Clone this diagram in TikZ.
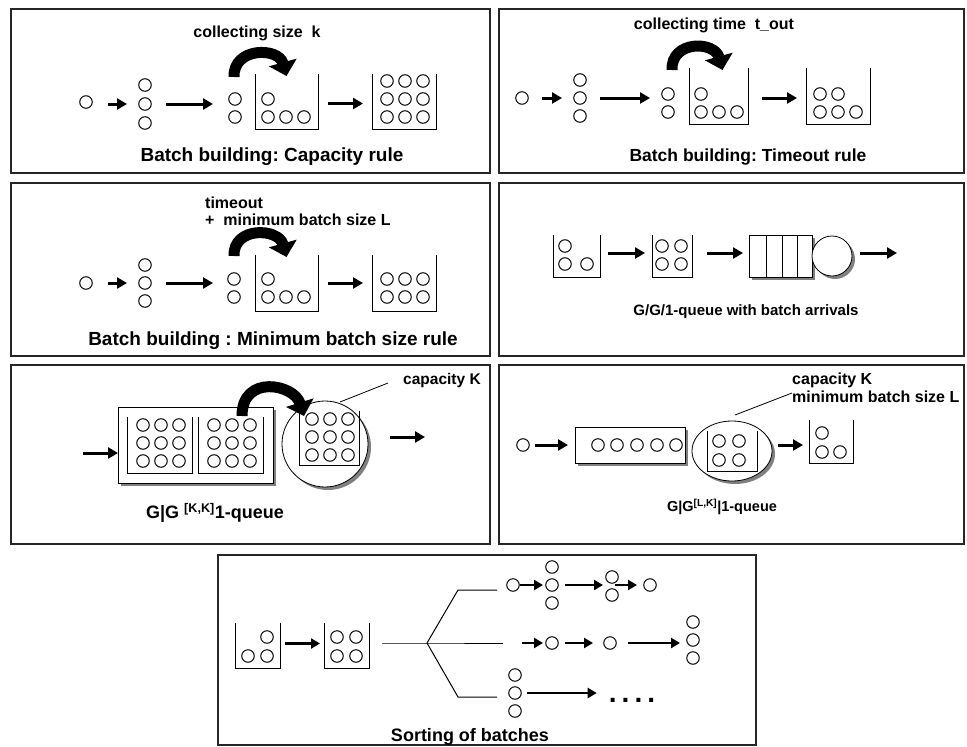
\documentclass[tikz,border=0pt]{standalone}
\usepackage{fontspec}
\setmainfont{Liberation Sans}
\usetikzlibrary{arrows.meta,shadows,calc,shapes.geometric}
\tikzset{
 ball/.style={circle,draw,line width=1pt,minimum size=12.5pt,inner sep=0pt,outer sep=0pt},
 bucket/.style={rectangle,inner sep=0pt,outer sep=0pt},
 bline/.style={line width=1pt},
 thinline/.style={line width=1pt},
 arr/.style={line width=3pt,-{Triangle[width=11pt,length=10pt]}},
 sarr/.style={line width=2.5pt,-{Triangle[width=10pt,length=9pt]}},
 curv/.style={line width=11pt,-{Triangle[width=28pt,length=14pt]}},
 panel/.style={draw=black!85,line width=1.2pt},
 shad/.style={fill=white,draw,line width=0.8pt,inner sep=0pt,outer sep=0pt,drop shadow={shadow xshift=3pt,shadow yshift=-3pt,fill=black!50,opacity=1}},
 ttl/.style={font=\bfseries\fontsize{18}{20}\selectfont,inner sep=0pt},
 lbl/.style={font=\bfseries\fontsize{16}{18}\selectfont,inner sep=0pt},
 leader/.style={line width=0.8pt},
}
\newcommand\mkbucket[5]{%
 \node[bucket,minimum width={#4-#2},minimum height={#5-#3}] (#1) at ({(#2+#4)/2},{(#3+#5)/2}) {};%
 \draw[bline] (#1.north west) |- (#1.south east) -- (#1.north east);}
\newcommand\mkgrid[3]{%
 \foreach \yy [count=\j] in {#3} {\foreach \xx [count=\i] in {#2} {\node[ball] (#1-\j-\i) at (\xx,\yy) {};}}}
\begin{document}
\frenchspacing
\begin{tikzpicture}[x=1pt,y=-1pt]
\useasboundingbox (0,0) rectangle (967,747);
% panels
\draw[panel] (11,9) rectangle (490,173);
\draw[panel] (499,9) rectangle (964,173);
\draw[panel] (11,183) rectangle (490,356);
\draw[panel] (499,183) rectangle (964,356);
\draw[panel] (11,365) rectangle (490,544);
\draw[panel] (499,365) rectangle (964,544);
\draw[panel] (218,555) rectangle (756,745);

% ---------- Panel 1
\node[ball] (p1a) at (86,102) {};
\mkgrid{p1c}{145}{85,104,123}
\draw[arr] ($(p1a |- p1c-2-1)+(22,0)$) -- ($(p1c-2-1)+(-18,0)$);
\mkgrid{p1d}{235}{99,117}
\draw[arr] ($(p1c-2-1)+(21,0)$) -- ($(p1d-1-1 |- p1c-2-1)+(-22,0)$);
\mkbucket{p1b}{255}{74}{318}{129}
\node[ball] (p1b0) at (268,99) {};
\mkgrid{p1bb}{268,286,304}{117}
\draw[curv] ($(p1d-1-1)+(-1,-22)$) .. controls +(-1,-30) and +(-8,-29) .. ($(p1b.north)+(0,2)$);
\mkbucket{p1e}{372}{74}{436}{129}
\mkgrid{p1ee}{387,405,423}{81,99,117}
\draw[arr] ($(p1b.east)+(10,2)$) -- ($(p1e.west)+(-9,2)$);
\node[lbl] (p1l) at (257,33) {collecting size\ \ k};
\node[ttl,font=\bfseries\fontsize{19}{21}\selectfont] (p1t) at (272,157) {Batch building: Capacity rule};

% ---------- Panel 2
\node[ball] (p2a) at (522,98) {};
\mkgrid{p2c}{580}{80,98,116}
\draw[arr] ($(p2a)+(20,0)$) -- ($(p2c-2-1)+(-18,0)$);
\mkgrid{p2d}{668}{94,112}
\draw[arr] ($(p2c-2-1)+(20,0)$) -- ($(p2d-1-1 |- p2c-2-1)+(-18,0)$);
\mkbucket{p2b}{689}{68}{748}{124}
\node[ball] (p2b0) at (701,94) {};
\mkgrid{p2bb}{701,719,737}{112}
\draw[curv] ($(p2d-1-1)+(4,-24)$) .. controls +(-1,-30) and +(-8,-29) .. ($(p2b.north)+(4,2)$);
\mkbucket{p2e}{806}{68}{870}{124}
\mkgrid{p2ee}{820,838}{94}
\mkgrid{p2ef}{820,838,856}{112}
\draw[arr] ($(p2b.east)+(14,2)$) -- ($(p2e.west)+(-9,2)$);
\node[lbl] (p2l) at (714,25) {collecting time\ \ t\_out};
\node[ttl,font=\bfseries\fontsize{17.5}{20}\selectfont] (p2t) at (748,157) {Batch building: Timeout rule};

% ---------- Panel 3
\node[ball] (p3a) at (86,283) {};
\mkgrid{p3c}{145}{265,283,301}
\draw[arr] ($(p3a)+(22,0)$) -- ($(p3c-2-1)+(-18,0)$);
\mkgrid{p3d}{234}{279,297}
\draw[arr] ($(p3c-2-1)+(21,0)$) -- ($(p3d-1-1 |- p3c-2-1)+(-21,0)$);
\mkbucket{p3b}{255}{255}{318}{311}
\node[ball] (p3b0) at (268,279) {};
\mkgrid{p3bb}{268,286,304}{297}
\draw[curv] ($(p3d-1-1)+(0,-23)$) .. controls +(-1,-30) and +(-8,-29) .. ($(p3b.north)+(0,2)$);
\mkbucket{p3e}{372}{255}{436}{311}
\mkgrid{p3ee}{387,405,423}{279,297}
\draw[arr] ($(p3b.east)+(10,0)$) -- ($(p3e.west)+(-9,0)$);
\node[lbl,anchor=west] (p3l1) at (205,203) {timeout};
\node[lbl,anchor=west] (p3l2) at (205,220) {+\ \ minimum batch size L};
\node[ttl,font=\bfseries\fontsize{19}{21}\selectfont] (p3t) at (273,341) {Batch building : Minimum batch size rule};

% ---------- Panel 4
\mkbucket{p4b}{553}{235}{600}{277}
\node[ball] (p4b1) at (565,246) {};
\mkgrid{p4bb}{565,587}{264}
\mkbucket{p4c}{652}{235}{692}{277}
\mkgrid{p4cc}{662,681}{246,264}
\draw[arr] ($(p4b.east)+(8,-3)$) -- ($(p4c.west)+(-7,-3)$);
\node[shad,rectangle,minimum width=63pt,minimum height=42pt] (p4q) at (780.5,256) {};
\foreach \x in {766,782,797} \draw[line width=0.8pt] (\x,235) -- (\x,277);
\node[shad,circle,minimum size=40pt] (p4s) at (832,256) {};
\draw[arr] ($(p4c.east)+(15,-3)$) -- ($(p4q.west)+(-6,-3)$);
\coordinate (p4o) at (897,253);
\draw[arr] (p4s.east |- p4o) ++(8,0) -- (p4o);
\node[ttl,font=\bfseries\fontsize{15}{18}\selectfont] (p4t) at (746,312) {G/G/1-queue with batch arrivals};

% ---------- Panel 5
\node[shad,rectangle,minimum width=155pt,minimum height=76pt] (p5r) at (195.5,445) {};
\mkbucket{p5a}{127}{417}{192}{473}
\mkgrid{p5aa}{143,161,179}{425,443,461}
\mkbucket{p5b}{198}{417}{263}{473}
\mkgrid{p5bb}{214,232,250}{425,443,461}
\coordinate (p5in) at (83,453);
\draw[arr] (p5in) -- (p5in -| p5r.west);
\node[shad,circle,minimum size=86pt] (p5c) at (325,444) {};
\mkbucket{p5d}{299}{411}{359}{465}
\mkgrid{p5dd}{312,330,348}{419,437,455}
\draw[curv] ($(p5b.north east)+(-21,-1)$) .. controls +(0,-42) and +(-10,-32) .. ($(p5d.north west)+(5,5)$);
\coordinate (p5o) at (425,437);
\draw[arr] ($(p5c.east)+(22,-7)$) -- (p5o);
\node[lbl,anchor=west,font=\bfseries\fontsize{15.5}{18}\selectfont] (p5k) at (403,380) {capacity K};
\coordinate (p5lp) at (340,402);
\draw[leader] ($(p5k.west)+(-15,3)$) -- (p5lp);
\node[ttl,font=\bfseries\fontsize{18}{20}\selectfont] (p5t) at (215,513) {G|G \textsuperscript{[K,K]}1-queue};

% ---------- Panel 6
\node[ball] (p6a) at (523,445) {};
\node[shad,rectangle,minimum width=110pt,minimum height=36pt] (p6r) at (630,445) {};
\draw[arr] ($(p6a)+(12,0)$) -- ([xshift=-7pt]p6r.west);
\mkgrid{p6rr}{598,617,637,657,676}{445}
\node[shad,ellipse,minimum width=80pt,minimum height=60pt] (p6e) at (732,451) {};
\mkbucket{p6b}{707}{431}{757}{471}
\mkgrid{p6bb}{719,739}{441,460}
\mkbucket{p6c}{809}{420}{853}{463}
\node[ball] (p6c0) at (822,433) {};
\mkgrid{p6cc}{822,840}{452}
\draw[arr] ($(p6e.east |- p6a)+(6,0)$) -- ($(p6c.west |- p6a)+(-6,0)$);
\node[lbl,anchor=west] (p6k1) at (792,380) {capacity K};
\node[lbl,anchor=west] (p6k2) at (792,397) {minimum batch size L};
\coordinate (p6lp) at (735,415);
\draw[leader] ($(p6k2.west)+(0,-4)$) -- (p6lp);
\node[ttl,font=\bfseries\fontsize{14.5}{18}\selectfont] (p6t) at (722,507) {G|G\textsuperscript{[L,K]}|1-queue};

% ---------- Panel 7
\mkbucket{p7a}{235}{623}{280}{668}
\node[ball] (p7a0) at (267,637) {};
\mkgrid{p7aa}{248,267}{656}
\mkbucket{p7b}{324}{623}{369}{668}
\mkgrid{p7bb}{337,356}{637,656}
\draw[sarr] ($(p7a.east)+(5,-2)$) -- ($(p7b.west)+(-4,-2)$);
\coordinate (p7s) at (382,643);
\coordinate (p7j) at (427,643);
\coordinate (p7u) at (458,590);
\coordinate (p7ue) at (497,590);
\coordinate (p7me) at (503,643);
\coordinate (p7l) at (458,697);
\coordinate (p7le) at (497,697);
\draw[thinline] (p7s) -- (p7j) -- (p7me);
\draw[thinline] (p7j) -- (p7u) -- (p7ue);
\draw[thinline] (p7j) -- (p7l) -- (p7le);
% top row
\node[ball] (p7t1) at (513,585) {};
\mkgrid{p7t2}{552}{567,585,603}
\mkgrid{p7t3}{612}{577,595}
\node[ball] (p7t4) at (650,585) {};
\draw[sarr] ($(p7t1)+(6.5,0)$) -- ($(p7t2-2-1)+(-9,0)$);
\draw[sarr] ($(p7t2-2-1)+(13,0)$) -- ($(p7t3-1-1 |- p7t1)+(-9,0)$);
\draw[sarr] ($(p7t3-1-1 |- p7t1)+(3,0)$) -- ($(p7t4)+(-13,0)$);
% middle row
\coordinate (p7m0) at (522,643);
\node[ball] (p7m1) at (552,643) {};
\node[ball] (p7m2) at (610,643) {};
\mkgrid{p7m3}{693}{622,640,658}
\draw[sarr] (p7m0) -- ($(p7m1)+(-9,0)$);
\draw[sarr] ($(p7m1)+(13,0)$) -- ($(p7m2)+(-17,0)$);
\draw[sarr] ($(p7m2)+(18,0)$) -- ($(p7m3-2-1 |- p7m2)+(-13,0)$);
% bottom row
\mkgrid{p7l}{515}{675,693,711}
\node[inner sep=0pt,font=\bfseries\fontsize{28}{28}\selectfont] (p7dots) at (632,700) {.\hspace{5pt}.\hspace{5pt}.\hspace{5pt}.};
\draw[sarr] ($(p7l-2-1)+(12,0)$) -- ($(p7dots.west |- p7l-2-1)+(-12,0)$);
\node[ttl] (p7t) at (470,737) {Sorting of batches};
\end{tikzpicture}
\end{document}
